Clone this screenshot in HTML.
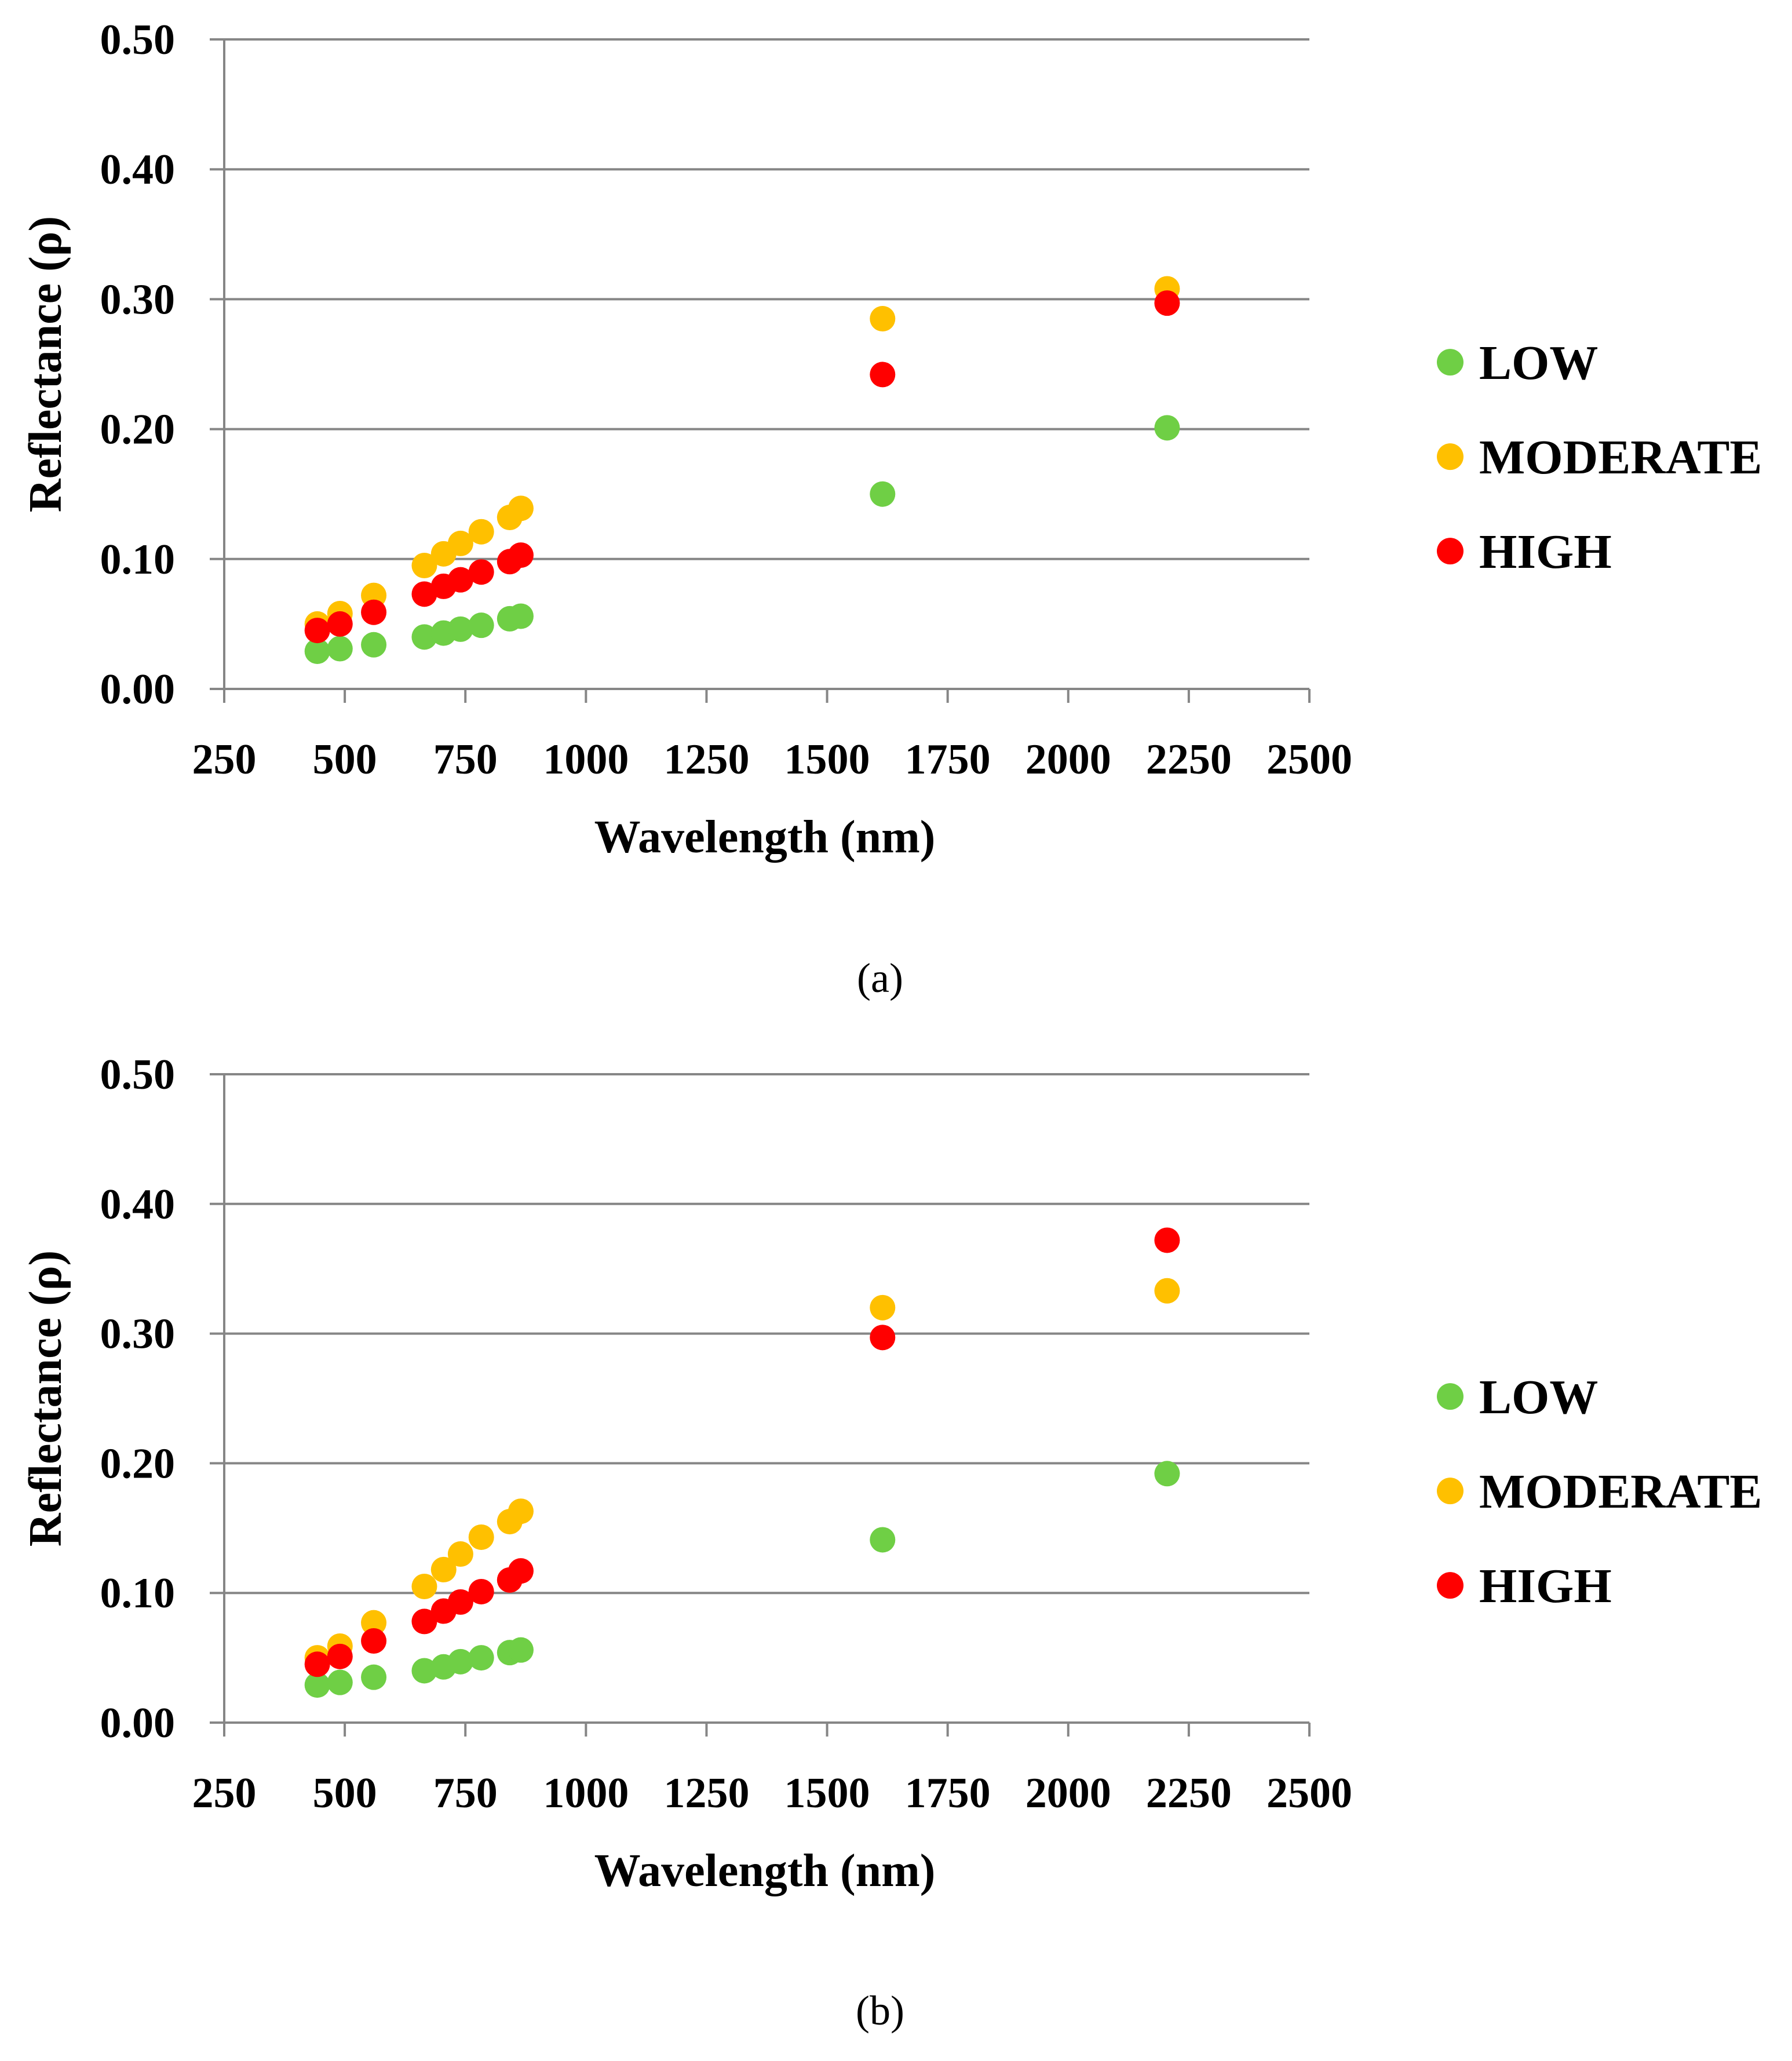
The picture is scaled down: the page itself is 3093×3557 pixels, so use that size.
<!DOCTYPE html>
<html><head><meta charset="utf-8"><style>
html,body{margin:0;padding:0;background:#fff}
svg{display:block}
text{font-family:"Liberation Serif",serif;font-weight:bold;fill:#000}
</style></head><body>
<svg id="fig" width="3093" height="3557" viewBox="0 0 3093 3557" xmlns="http://www.w3.org/2000/svg"></svg>
<script>
const wavelengths=[443,490,560,665,705,740,783,842,865,1615,2205];
const seriesNames=["LOW","MODERATE","HIGH"];
const seriesColors=["#6fcf45","#ffc000","#ff0000"];
const aLow=[0.029,0.031,0.034,0.040,0.043,0.046,0.049,0.054,0.056,0.150,0.201];
const aMod=[0.050,0.058,0.072,0.095,0.104,0.112,0.121,0.132,0.139,0.285,0.308];
const aHigh=[0.045,0.050,0.059,0.073,0.079,0.084,0.090,0.098,0.103,0.242,0.297];
const bLow=[0.029,0.031,0.035,0.040,0.043,0.047,0.050,0.054,0.056,0.141,0.192];
const bMod=[0.050,0.059,0.077,0.105,0.118,0.130,0.143,0.155,0.163,0.320,0.333];
const bHigh=[0.045,0.051,0.063,0.078,0.086,0.093,0.101,0.110,0.117,0.297,0.372];
const xTicks=[250,500,750,1000,1250,1500,1750,2000,2250,2500];
const yTicks=[0,0.1,0.2,0.3,0.4,0.5];
const yTickLabels=["0.00","0.10","0.20","0.30","0.40","0.50"];

const NS="http://www.w3.org/2000/svg";
const svg=document.getElementById('fig');
function mk(tag,attrs,parent){const e=document.createElementNS(NS,tag);for(const k in attrs)e.setAttribute(k,attrs[k]);(parent||svg).appendChild(e);return e;}

function drawPanel(id,top,bottom,data,caption,capY){
  const g=mk('g',{});
  
  
  const x0=387,x1=2260;
  const sx=v=>x0+(v-250)/(2500-250)*(x1-x0);
  const sy=v=>bottom-(v/0.5)*(bottom-top);
  yTicks.forEach((t,i)=>{
    const y=sy(t);
    const l=mk('line',{x1:362,x2:x1,y1:y,y2:y,stroke:'#868686','stroke-width':4},g);
    
    
    const tx=mk('text',{x:302,y:y+25,'font-size':74,'text-anchor':'end'},g);
    tx.textContent=yTickLabels[i];
    
    
  });
  const ya=mk('line',{x1:x0,x2:x0,y1:top,y2:bottom,stroke:'#868686','stroke-width':4},g);
  
  
  xTicks.forEach(t=>{
    const x=sx(t);
    const tk=mk('line',{x1:x,x2:x,y1:bottom,y2:bottom+24,stroke:'#868686','stroke-width':4},g);
    
    
    const tx=mk('text',{x:x,y:bottom+146,'font-size':74,'text-anchor':'middle'},g);
    tx.textContent=t;
    
    
  });
  const xt=mk('text',{x:1320,y:bottom+282,'font-size':80,'text-anchor':'middle'},g);
  xt.textContent='Wavelength (nm)';
  
  
  const cy=(top+bottom)/2;
  const yt=mk('text',{x:79,y:cy,'font-size':80,'text-anchor':'middle',transform:'rotate(-90 79 '+cy+')','dominant-baseline':'central'},g);
  yt.textContent='Reflectance (ρ)';
  
  
  data.forEach((vals,s)=>{
    vals.forEach((v,i)=>{
      const c=mk('circle',{cx:sx(wavelengths[i]),cy:sy(v),r:22,fill:seriesColors[s]},g);
      
      
    });
  });
  const legTop=top+(bottom-top)*0.497;
  seriesNames.forEach((n,s)=>{
    const ly=legTop+s*163;
    const c=mk('circle',{cx:2503,cy:ly,r:23,fill:seriesColors[s]},g);
    
    
    const t=mk('text',{x:2553,y:ly+29,'font-size':84},g);
    t.textContent=n;
    
    
  });
  const cp=mk('text',{x:1519,y:capY,'font-size':72,'text-anchor':'middle'},g);
  cp.style.fontWeight='normal';
  cp.textContent=caption;
  
  
}
drawPanel('a',68,1189,[aLow,aMod,aHigh],'(a)',1712);
drawPanel('b',1854,2973,[bLow,bMod,bHigh],'(b)',3494);
</script>
</body></html>
